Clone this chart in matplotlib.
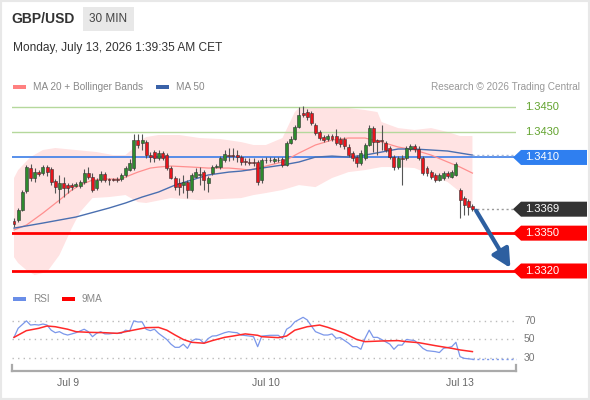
import numpy as np
import matplotlib
matplotlib.use('Agg')
import matplotlib.pyplot as plt
import matplotlib.transforms as mtransforms
from matplotlib.patches import Rectangle, Polygon

plt.rcParams['font.family'] = ['Liberation Sans', 'DejaVu Sans']

# ---- data (GBP/USD 30 min candles) ----
opens = [1.33596, 1.33604, 1.33683, 1.33834, 1.34016, 1.33937, 1.33984, 1.33976, 1.34024, 1.34008,
         1.33913, 1.33850, 1.33897, 1.33881, 1.33881, 1.33873, 1.33873, 1.33905, 1.33976, 1.33945,
         1.33857, 1.33921, 1.33968, 1.33929, 1.33929, 1.33929, 1.33929, 1.33961, 1.34000, 1.34016,
         1.34238, 1.34215, 1.34222, 1.34119, 1.34143, 1.34096, 1.34135, 1.34119, 1.34016, 1.33937,
         1.33897, 1.33881, 1.33905, 1.33842, 1.33945, 1.33961, 1.33984, 1.33897, 1.33976, 1.34024,
         1.34024, 1.34080, 1.34119, 1.34119, 1.34119, 1.34103, 1.34072, 1.34064, 1.34064, 1.34064,
         1.33921, 1.34080, 1.34080, 1.34072, 1.34080, 1.34088, 1.34040, 1.34215, 1.34246, 1.34341,
         1.34452, 1.34460, 1.34452, 1.34357, 1.34302, 1.34262, 1.34246, 1.34270, 1.34270, 1.34246,
         1.34246, 1.34183, 1.34135, 1.34103, 1.34056, 1.34096, 1.34199, 1.34333, 1.34238, 1.34238,
         1.34215, 1.34175, 1.34103, 1.34024, 1.34096, 1.34096, 1.34167, 1.34191, 1.34167, 1.34096,
         1.34016, 1.33984, 1.33961, 1.33921, 1.33937, 1.33976, 1.33945, 1.33961, 1.33842, 1.33778,
         1.33754, 1.33715]
highs = [1.33620, 1.33699, 1.33842, 1.34040, 1.34048, 1.34016, 1.34000, 1.34040, 1.34040, 1.34024,
         1.33929, 1.33961, 1.33945, 1.33897, 1.33897, 1.33905, 1.33921, 1.34008, 1.34024, 1.33976,
         1.33937, 1.33992, 1.33984, 1.33937, 1.33937, 1.33945, 1.33976, 1.34032, 1.34088, 1.34286,
         1.34286, 1.34286, 1.34238, 1.34143, 1.34159, 1.34159, 1.34151, 1.34135, 1.34032, 1.33953,
         1.33937, 1.33961, 1.33921, 1.33976, 1.34016, 1.34024, 1.34000, 1.33953, 1.34040, 1.34048,
         1.34111, 1.34159, 1.34175, 1.34175, 1.34159, 1.34119, 1.34096, 1.34096, 1.34096, 1.34080,
         1.34096, 1.34103, 1.34103, 1.34103, 1.34103, 1.34103, 1.34230, 1.34270, 1.34357, 1.34500,
         1.34508, 1.34484, 1.34468, 1.34373, 1.34318, 1.34278, 1.34286, 1.34286, 1.34326, 1.34262,
         1.34262, 1.34207, 1.34151, 1.34119, 1.34159, 1.34215, 1.34357, 1.34349, 1.34246, 1.34357,
         1.34230, 1.34191, 1.34119, 1.34111, 1.34119, 1.34191, 1.34207, 1.34207, 1.34191, 1.34111,
         1.34032, 1.34000, 1.33976, 1.33976, 1.33992, 1.33992, 1.34000, 1.34064, 1.33857, 1.33794,
         1.33770, 1.33731]
lows = [1.33548, 1.33588, 1.33675, 1.33818, 1.33913, 1.33905, 1.33953, 1.33961, 1.33953, 1.33881,
        1.33818, 1.33739, 1.33786, 1.33818, 1.33842, 1.33865, 1.33857, 1.33889, 1.33929, 1.33826,
        1.33842, 1.33905, 1.33905, 1.33881, 1.33913, 1.33905, 1.33913, 1.33945, 1.33992, 1.34000,
        1.34175, 1.34159, 1.34096, 1.34064, 1.34064, 1.34080, 1.34080, 1.34000, 1.33930, 1.33842,
        1.33802, 1.33818, 1.33778, 1.33826, 1.33937, 1.33881, 1.33842, 1.33826, 1.33961, 1.34016,
        1.34008, 1.34064, 1.34072, 1.34080, 1.34064, 1.34040, 1.34040, 1.34040, 1.34032, 1.33881,
        1.33897, 1.34056, 1.34064, 1.34056, 1.34064, 1.34024, 1.34032, 1.34207, 1.34238, 1.34333,
        1.34421, 1.34397, 1.34357, 1.34278, 1.34238, 1.34222, 1.34230, 1.34230, 1.34199, 1.34183,
        1.34167, 1.34103, 1.34072, 1.34024, 1.34040, 1.34080, 1.34191, 1.34143, 1.34119, 1.34159,
        1.34143, 1.34088, 1.34000, 1.34008, 1.33881, 1.34080, 1.34151, 1.34143, 1.34080, 1.33961,
        1.33953, 1.33929, 1.33905, 1.33913, 1.33921, 1.33937, 1.33937, 1.33953, 1.33620, 1.33643,
        1.33643, 1.33675]
closes = [1.33572, 1.33683, 1.33826, 1.34024, 1.33937, 1.33984, 1.33968, 1.34024, 1.33984, 1.33905,
          1.33865, 1.33897, 1.33857, 1.33857, 1.33865, 1.33889, 1.33905, 1.33976, 1.33945, 1.33842,
          1.33921, 1.33968, 1.33921, 1.33921, 1.33925, 1.33921, 1.33961, 1.34016, 1.34056, 1.34238,
          1.34199, 1.34238, 1.34119, 1.34103, 1.34096, 1.34135, 1.34096, 1.34016, 1.33937, 1.33865,
          1.33865, 1.33905, 1.33842, 1.33961, 1.33984, 1.33965, 1.33921, 1.33937, 1.34024, 1.34032,
          1.34096, 1.34127, 1.34115, 1.34115, 1.34103, 1.34064, 1.34064, 1.34060, 1.34056, 1.33905,
          1.34080, 1.34076, 1.34076, 1.34088, 1.34076, 1.34040, 1.34215, 1.34246, 1.34341, 1.34437,
          1.34437, 1.34421, 1.34373, 1.34294, 1.34254, 1.34238, 1.34270, 1.34246, 1.34215, 1.34207,
          1.34191, 1.34119, 1.34096, 1.34056, 1.34135, 1.34199, 1.34333, 1.34222, 1.34222, 1.34230,
          1.34159, 1.34103, 1.34024, 1.34096, 1.34088, 1.34175, 1.34191, 1.34167, 1.34096, 1.33976,
          1.33976, 1.33945, 1.33921, 1.33961, 1.33976, 1.33953, 1.33984, 1.34048, 1.33762, 1.33723,
          1.33707, 1.33690]

# Bollinger bands / moving averages read at candle positions
bb_up_idx = [0, 1, 4, 7, 10, 15, 20, 24, 27, 29, 30, 32, 35, 40, 45, 50, 55, 58, 61, 65, 68, 69,
             73, 77, 81, 85, 88, 89, 93, 97, 101, 105, 108, 111]
bb_up = [1.33937, 1.34000, 1.34103, 1.34159, 1.34175, 1.34159, 1.34143, 1.34119, 1.34119, 1.34175,
         1.34222, 1.34262, 1.34278, 1.34278, 1.34254, 1.34246, 1.34222, 1.34199, 1.34199, 1.34254,
         1.34460, 1.34492, 1.34500, 1.34500, 1.34492, 1.34476, 1.34460, 1.34381, 1.34333, 1.34318,
         1.34333, 1.34302, 1.34270, 1.34270]
bb_low_idx = [0, 1, 3, 5, 8, 11, 14, 16, 19, 23, 27, 30, 32, 38, 45, 55, 58, 61, 65, 69, 73, 77,
              81, 85, 89, 93, 97, 101, 105, 108, 111]
bb_low = [1.33310, 1.33263, 1.33207, 1.33168, 1.33192, 1.33326, 1.33540, 1.33667, 1.33778, 1.33786,
          1.33802, 1.33746, 1.33739, 1.33778, 1.33762, 1.33778, 1.33802, 1.33818, 1.33842, 1.33881,
          1.33865, 1.33937, 1.33984, 1.34000, 1.34024, 1.34024, 1.34016, 1.33961, 1.33905, 1.33826,
          1.33723]
ma20_idx = [0, 3, 7, 11, 14, 16, 19, 22, 26, 27, 30, 33, 35, 38, 43, 47, 52, 55, 57, 65, 69, 73,
            77, 81, 85, 89, 93, 97, 101, 105, 108, 111]
ma20 = [1.33525, 1.33564, 1.33659, 1.33762, 1.33842, 1.33881, 1.33921, 1.33929, 1.33929, 1.33945,
        1.33984, 1.34016, 1.34024, 1.34032, 1.34024, 1.34016, 1.34016, 1.34008, 1.34000, 1.34064,
        1.34135, 1.34199, 1.34238, 1.34254, 1.34254, 1.34222, 1.34183, 1.34159, 1.34119, 1.34064,
        1.34024, 1.33976]
ma50_idx = [0, 7, 15, 23, 27, 31, 35, 39, 43, 47, 52, 55, 60, 65, 69, 73, 77, 81, 85, 89, 93, 97,
            101, 105, 111]
ma50 = [1.33540, 1.33580, 1.33628, 1.33699, 1.33739, 1.33786, 1.33826, 1.33881, 1.33921, 1.33961,
        1.33984, 1.33992, 1.34016, 1.34040, 1.34064, 1.34103, 1.34111, 1.34103, 1.34119, 1.34143,
        1.34167, 1.34167, 1.34159, 1.34151, 1.34119]

# RSI panel
rsi_idx = [0, 1, 3, 4, 5, 6, 7, 8, 9, 10, 11, 12, 13, 14, 15, 17, 18, 19, 20, 21, 22, 23, 24, 26,
           27, 28, 29, 30, 31, 32, 33, 34, 35, 37, 38, 39, 40, 41, 42, 43, 44, 45, 46, 47, 48, 49,
           51, 52, 53, 54, 55, 57, 58, 59, 60, 62, 64, 65, 66, 67, 68, 70, 71, 72, 73, 75, 76, 77,
           78, 79, 81, 82, 83, 84, 85, 86, 87, 88, 89, 91, 92, 93, 94, 95, 97, 98, 99, 100, 102,
           103, 104, 106, 107, 108, 109, 111]
rsi = [52.3, 62, 70, 65.5, 66, 65.5, 66.6, 65.5, 60, 57.3, 58.4, 56, 54.8, 56, 57.3, 61, 58.4, 53,
       56.6, 58.4, 56, 56, 56.6, 56.6, 60, 59, 70, 68.8, 69, 61, 59.5, 61, 56.6, 50, 45, 41.6, 41.6,
       45, 40.5, 48.4, 50.5, 50, 46, 51, 53.7, 54, 57.3, 58.4, 57.7, 57.3, 54.8, 53.7, 53, 42.3,
       53.7, 54.5, 54.5, 51, 61, 63.8, 69, 73.8, 71, 64.5, 58.4, 54.8, 54.8, 56, 51.3, 52, 46,
       42.3, 42.3, 39.5, 51.3, 60, 52.3, 52.3, 50, 45, 39.5, 44, 44, 50, 48.8, 45, 40.5, 38, 37,
       36, 40.5, 42.3, 47, 31.6, 29.8, 28.8]
ma9_idx = [0, 3, 6, 8, 10, 13, 15, 18, 22, 25, 27, 30, 32, 35, 37, 39, 41, 43, 46, 48, 51, 53, 56,
           59, 60, 64, 66, 68, 71, 74, 76, 80, 83, 85, 89, 93, 95, 98, 102, 106, 108, 111]
ma9 = [52.3, 59.5, 62, 64.5, 63.7, 61, 58.4, 57.7, 57.3, 56.6, 58.4, 61, 62.7, 63, 60, 54.8, 50,
       47, 46, 48.8, 52.3, 53.7, 56, 54.5, 53, 52, 53.7, 60, 63.7, 65.5, 63, 56.6, 50, 47.7, 48.4,
       48.8, 47.7, 46.6, 43.4, 40.5, 38.8, 37]

levels_green = [1.3450, 1.3430]
level_blue = 1.3410
levels_red = [1.3350, 1.3320]
day_ticks = [13, 61, 108]
day_labels = ['Jul 9', 'Jul 10', 'Jul 13']
rsi_levels = [30, 50, 70]

W, H = 590, 400


def fx(px):
    return px / W


def fy(py):
    return 1 - py / H


fig = plt.figure(figsize=(W / 100, H / 100), dpi=100)
fig.patch.set_facecolor('white')

# outer frame
fig.add_artist(Rectangle((0, 0), 1, 1, transform=fig.transFigure, fill=False,
                         edgecolor='#e8e8e8', lw=3))

# header
fig.text(fx(11.5), fy(19), 'GBP/USD', fontsize=10, fontweight='bold', color='#333333',
         va='center', ha='left')
fig.add_artist(Rectangle((fx(82.5), fy(30.5)), 51 / W, 23.5 / H, transform=fig.transFigure,
                         facecolor='#e8e8e8', edgecolor='none'))
fig.text(fx(108), fy(19), '30 MIN', fontsize=8.5, color='#444444', va='center', ha='center')
fig.text(fx(13), fy(48.5), 'Monday, July 13, 2026 1:39:35 AM CET', fontsize=8.6,
         color='#333333', va='center', ha='left')

# legend of price panel
fig.add_artist(Rectangle((fx(13), fy(88.5)), 13 / W, 4 / H, transform=fig.transFigure,
                         facecolor='#ff8080', edgecolor='none'))
fig.text(fx(33), fy(86.5), 'MA 20 + Bollinger Bands', fontsize=7.2, color='#888888',
         va='center', ha='left')
fig.add_artist(Rectangle((fx(156), fy(88.5)), 13 / W, 4 / H, transform=fig.transFigure,
                         facecolor='#3a62a8', edgecolor='none'))
fig.text(fx(176), fy(86.5), 'MA 50', fontsize=7.2, color='#888888', va='center', ha='left')
fig.text(fx(580), fy(86.5), 'Research \u00a9 2026 Trading Central', fontsize=7.2,
         color='#999999', va='center', ha='right')

# ---- price panel ----
ax = fig.add_axes([fx(12), fy(283), 504 / W, 186 / H])
ax.set_xlim(-0.484, 121.55)
ax.set_ylim(1.331048, 1.345793)
ax.axis('off')

ax.fill(np.r_[bb_up_idx, bb_low_idx[::-1]], np.r_[bb_up, bb_low[::-1]],
        color='#ffe3e3', lw=0, zorder=1)

for lv in levels_green:
    ax.axhline(lv, color='#b5d89c', lw=1, zorder=2)
ax.axhline(level_blue, color='#3b7de8', lw=1.2, zorder=2)
for lv in levels_red:
    ax.axhline(lv, color='#ff0000', lw=2, zorder=2)

ax.plot(ma20_idx, ma20, color='#ff8f8f', lw=0.9, zorder=3)
ax.plot(ma50_idx, ma50, color='#4a6fb0', lw=1.0, zorder=3)

idx = np.arange(len(closes))
o = np.array(opens)
c = np.array(closes)
up = c >= o
ax.vlines(idx, lows, highs, color='#555555', lw=0.8, zorder=4)
body = np.where(np.abs(c - o) < 0.00004, 0.00004, c - o)
ax.bar(idx, body, bottom=o, width=0.72, color=np.where(up, '#2e8a2e', '#e8141c'),
       edgecolor='#333333', lw=0.4, zorder=5)

# dotted extensions to labels
ax.plot([idx[-1], 121.55], [closes[-1]] * 2, ls=(0, (1.5, 2)), color='#9a9a9a', lw=1, zorder=3,
        clip_on=False)
ax.plot([ma50_idx[-1], 121.55], [ma50[-1]] * 2, ls=(0, (1.5, 2)), color='#a8b8d8', lw=1,
        zorder=3, clip_on=False)

# projection arrow
ax.annotate('', xy=(120.2, 1.33224), xytext=(idx[-1] + 0.9, closes[-1] - 0.00012),
            arrowprops=dict(arrowstyle='-|>,head_length=0.55,head_width=0.28', lw=3,
                            color='#2d5fa0', mutation_scale=20, shrinkA=0, shrinkB=0),
            zorder=6, annotation_clip=False)

# right-side labels
tr = mtransforms.blended_transform_factory(ax.transAxes, ax.transData)
dpp = (1.345793 - 1.331048) / 186
hh = 7.5 * dpp
x_tip, x_sh, x_r = (513 - 12) / 504, (521 - 12) / 504, (587 - 12) / 504
x_txt = (525 - 12) / 504


def price_tag(level, bg, text):
    poly = Polygon([(x_tip, level), (x_sh, level + hh), (x_r, level + hh), (x_r, level - hh),
                    (x_sh, level - hh)], closed=True, transform=tr, facecolor=bg,
                   edgecolor='none', clip_on=False, zorder=7)
    ax.add_patch(poly)
    ax.text(x_txt, level, text, transform=tr, color='white', fontsize=8, va='center',
            ha='left', clip_on=False, zorder=8)


for lv in levels_green:
    ax.text(x_txt, lv, '%.4f' % lv, transform=tr, color='#62a32e', fontsize=8, va='center',
            ha='left', clip_on=False)
price_tag(level_blue, '#2f7ff0', '%.4f' % level_blue)
price_tag(round(closes[-1], 4), '#333333', '%.4f' % round(closes[-1], 4))
for lv in levels_red:
    price_tag(lv, '#ff0000', '%.4f' % lv)

# ---- RSI panel ----
fig.add_artist(Rectangle((fx(13), fy(300.5)), 13 / W, 4 / H, transform=fig.transFigure,
                         facecolor='#6a8ee8', edgecolor='none'))
fig.text(fx(33), fy(299), 'RSI', fontsize=7.2, color='#888888', va='center', ha='left')
fig.add_artist(Rectangle((fx(62), fy(300.5)), 13 / W, 4 / H, transform=fig.transFigure,
                         facecolor='#ff0000', edgecolor='none'))
fig.text(fx(82), fy(299), '9MA', fontsize=7.2, color='#888888', va='center', ha='left')

ax2 = fig.add_axes([fx(12), fy(371), 504 / W, 59 / H])
ax2.set_xlim(-0.484, 121.55)
ax2.set_ylim(16.2, 79.5)
for s in ['top', 'left', 'right']:
    ax2.spines[s].set_visible(False)
ax2.spines['bottom'].set_color('#aaaaaa')
ax2.spines['bottom'].set_linewidth(1.6)
ax2.set_yticks([])
for lv in rsi_levels:
    ax2.axhline(lv, color='#bbbbbb', lw=1, ls=(0, (1, 3)))
    ax2.text(1.0159, lv, str(lv), transform=mtransforms.blended_transform_factory(
        ax2.transAxes, ax2.transData), color='#777777', fontsize=7.5, va='center', ha='left')
ax2.plot(rsi_idx, rsi, color='#7b97ea', lw=0.9)
ax2.plot([rsi_idx[-1], 121.55], [rsi[-1]] * 2, color='#7b97ea', lw=1, ls=(0, (1.5, 2)),
         clip_on=False)
ax2.plot(ma9_idx, ma9, color='#ff2a2a', lw=1.1)
# end ticks on the time axis
for xe in [0, 1]:
    ax2.plot([xe, xe], [0, 0.1], transform=ax2.transAxes, color='#aaaaaa', lw=1.6,
             clip_on=False)
ax2.set_xticks(day_ticks)
ax2.set_xticklabels(day_labels)
ax2.tick_params(axis='x', length=0, pad=5, labelsize=7.5, labelcolor='#666666')

fig.savefig('out.png', dpi=100, facecolor='white')
